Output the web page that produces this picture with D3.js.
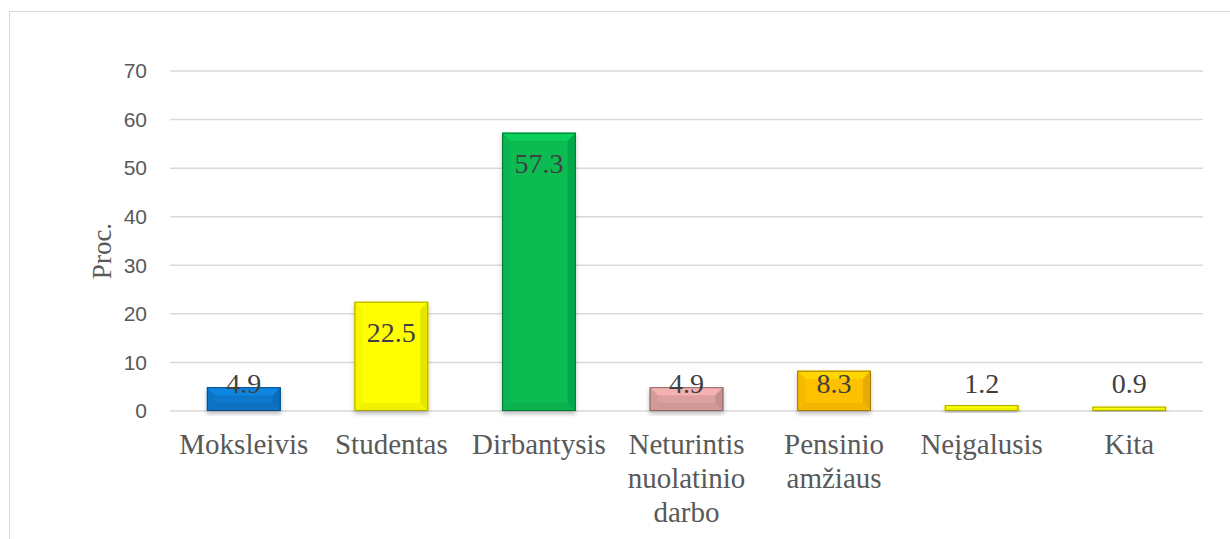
<!DOCTYPE html>
<html>
<head>
<meta charset="utf-8">
<script src="https://cdn.jsdelivr.net/npm/d3@7"></script>
<style>
  body { margin: 0; background: #fff; }
  svg text { fill: #595959; }
</style>
</head>
<body>
<div id="chart"></div>
<script>
// data
const categories = ['Moksleivis', 'Studentas', 'Dirbantysis', 'Neturintis nuolatinio darbo', 'Pensinio amžiaus', 'Neįgalusis', 'Kita'];
const categoryLines = [['Moksleivis'], ['Studentas'], ['Dirbantysis'], ['Neturintis', 'nuolatinio', 'darbo'], ['Pensinio', 'amžiaus'], ['Neįgalusis'], ['Kita']];
const values = [4.9, 22.5, 57.3, 4.9, 8.3, 1.2, 0.9];
const barColors = ['#0b78cc', '#ffff00', '#07bb52', '#dca0a0', '#ffc000', '#ffff00', '#ffff00'];
const yTicks = [0, 10, 20, 30, 40, 50, 60, 70];
const yTitle = 'Proc.';

const width = 1230, height = 539;
const margin = { top: 71, bottom: 128, left: 170, right: 27 };

const svg = d3.select('#chart').append('svg')
    .attr('width', width)
    .attr('height', height);

// outer frame
svg.append('rect')
    .attr('x', 9.5).attr('y', 11.5)
    .attr('width', 1240).attr('height', 600)
    .style('fill', 'none')
    .style('stroke', '#d9d9d9')
    .style('stroke-width', 1);

const defs = svg.append('defs');
defs.append('filter').attr('id', 'shadow')
    .attr('x', '-20%').attr('y', '-20%').attr('width', '140%').attr('height', '140%')
    .append('feDropShadow')
    .attr('dx', 0).attr('dy', 3).attr('stdDeviation', 2)
    .attr('flood-color', '#000').attr('flood-opacity', 0.25);

const chart = svg.append('g')
    .attr('transform', `translate(${margin.left}, ${margin.top})`);

const chartWidth = width - margin.left - margin.right,
      chartHeight = height - margin.top - margin.bottom;

const scaleX = d3.scaleBand(categories, [0, chartWidth]).paddingInner(0.5).paddingOuter(0.25);
const scaleY = d3.scaleLinear([0, 70], [chartHeight, 0]);

// gridlines
chart.append('g')
    .selectAll('line')
    .data(yTicks)
    .join('line')
    .attr('x1', 0).attr('x2', chartWidth)
    .attr('y1', d => scaleY(d)).attr('y2', d => scaleY(d))
    .style('stroke', '#d9d9d9')
    .style('stroke-width', 1.5);

// y axis
const axisY = chart.append('g')
    .call(d3.axisLeft(scaleY).tickValues(yTicks).tickSize(0).tickPadding(23));
axisY.select('.domain').remove();
axisY.selectAll('text')
    .style('font-family', '"Liberation Sans", Arial, sans-serif')
    .style('font-size', '21px')
    .style('fill', '#595959');

// y title
svg.append('text')
    .attr('x', 0).attr('y', 0)
    .attr('transform', `translate(111, ${margin.top + chartHeight / 2 + 10}) rotate(-90)`)
    .attr('text-anchor', 'middle')
    .attr('font-family', '"Liberation Serif", "Times New Roman", serif')
    .attr('font-size', 27)
    .text(yTitle);

// bars
const bars = chart.selectAll('g.bar')
    .data(values.map((v, i) => ({ v, i, c: categories[i], color: barColors[i] })))
    .join('g')
    .classed('bar', true)
    .attr('filter', 'url(#shadow)');

bars.each(function(d) {
    const g = d3.select(this);
    const x0 = scaleX(d.c), w = scaleX.bandwidth();
    const y0 = scaleY(d.v), y1 = scaleY(0), h = y1 - y0;
    const b = Math.min(8, h / 2, w / 2);
    const base = d3.color(d.color);

    g.append('rect')
        .attr('x', x0).attr('y', y0)
        .attr('width', w).attr('height', h)
        .style('fill', d.color);
    // bevel: top lighter, sides slightly darker
    g.append('polygon')
        .attr('points', [[x0, y0], [x0 + w, y0], [x0 + w - b, y0 + b], [x0 + b, y0 + b]].join(' '))
        .style('fill', base.brighter(0.3).formatHex());
    g.append('polygon')
        .attr('points', [[x0, y0], [x0 + b, y0 + b], [x0 + b, y1 - b], [x0, y1]].join(' '))
        .style('fill', base.darker(0.1).formatHex());
    g.append('polygon')
        .attr('points', [[x0 + w, y0], [x0 + w - b, y0 + b], [x0 + w - b, y1 - b], [x0 + w, y1]].join(' '))
        .style('fill', base.darker(0.3).formatHex());
    g.append('polygon')
        .attr('points', [[x0, y1], [x0 + b, y1 - b], [x0 + w - b, y1 - b], [x0 + w, y1]].join(' '))
        .style('fill', base.darker(0.15).formatHex());
    g.append('rect')
        .attr('x', x0 + 0.5).attr('y', y0 + 0.5)
        .attr('width', w - 1).attr('height', Math.max(0, h - 1))
        .style('fill', 'none')
        .style('stroke', base.darker(1.2).formatHex())
        .style('stroke-width', 1);
});

// value labels
chart.selectAll('text.value')
    .data(values)
    .join('text')
    .classed('value', true)
    .attr('x', (d, i) => scaleX(categories[i]) + scaleX.bandwidth() / 2)
    .attr('y', d => Math.min(scaleY(d) + 40, scaleY(0) - 18))
    .style('text-anchor', 'middle')
    .style('font-family', '"Liberation Serif", "Times New Roman", serif')
    .style('font-size', '28px')
    .style('fill', '#404040')
    .text(d => d.toFixed(1));

// category labels
chart.selectAll('text.cat')
    .data(categoryLines)
    .join('text')
    .classed('cat', true)
    .attr('x', (d, i) => scaleX(categories[i]) + scaleX.bandwidth() / 2)
    .attr('y', chartHeight + 43)
    .style('text-anchor', 'middle')
    .style('font-family', '"Liberation Serif", "Times New Roman", serif')
    .style('font-size', '29px')
    .style('fill', '#595959')
    .selectAll('tspan')
    .data((d, i) => d.map(l => ({ l, i })))
    .join('tspan')
    .attr('x', d => scaleX(categories[d.i]) + scaleX.bandwidth() / 2)
    .attr('dy', (d, j) => j === 0 ? 0 : 34)
    .text(d => d.l);
</script>
</body>
</html>
